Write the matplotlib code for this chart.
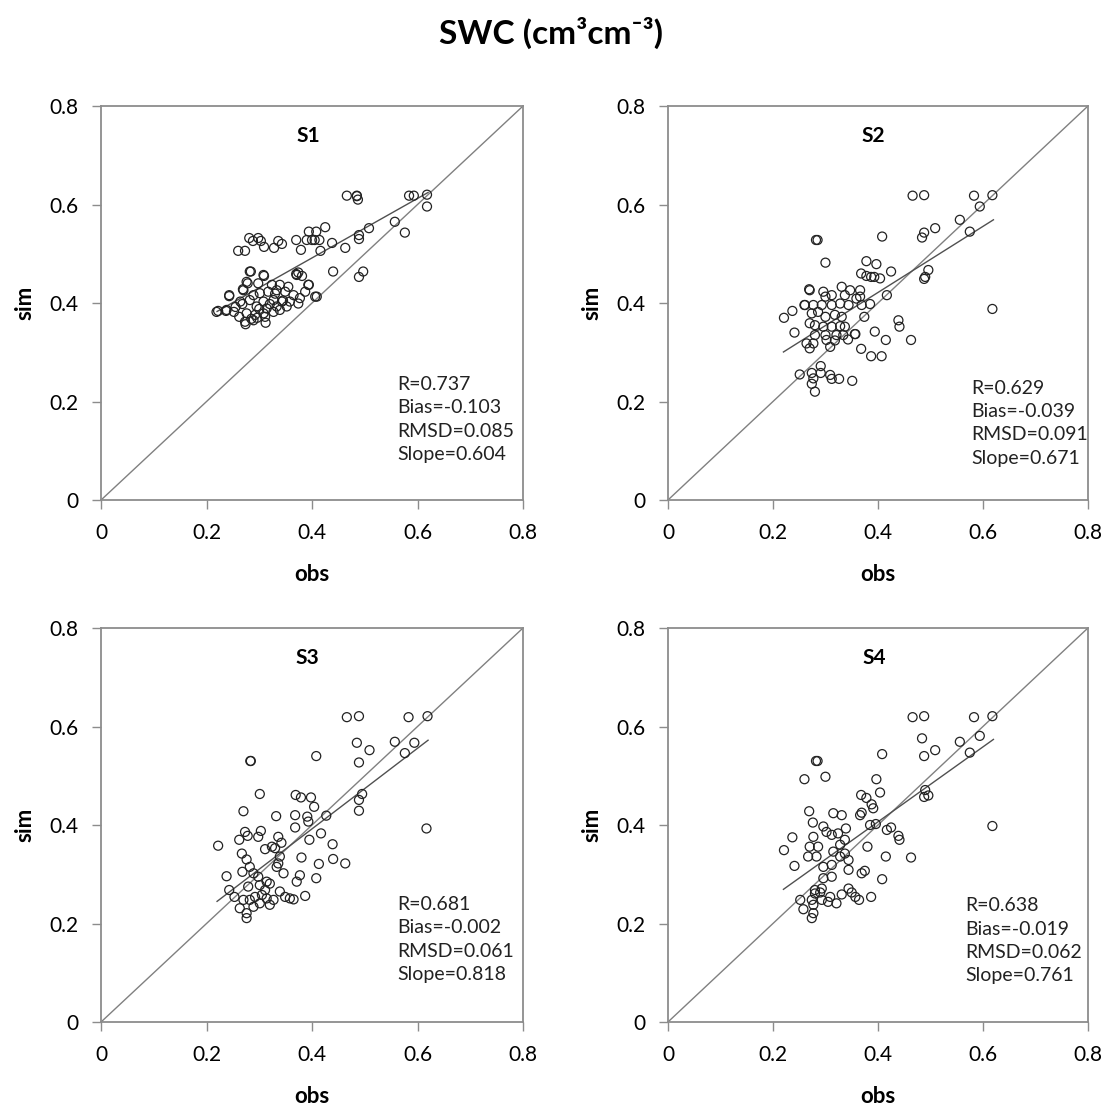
import numpy as np
import matplotlib.pyplot as plt

plt.rcParams['font.family'] = ['Lato', 'DejaVu Sans']

# ---- data ----
s1_obs = [0.466, 0.485, 0.487, 0.485, 0.584, 0.593, 0.618, 0.618, 0.557, 0.576, 0.508, 0.489, 0.489,
          0.463, 0.425, 0.394, 0.408, 0.390, 0.400, 0.405, 0.414, 0.438, 0.370, 0.379, 0.416,
          0.281, 0.288, 0.298, 0.303, 0.309, 0.328, 0.336, 0.343, 0.260, 0.273, 0.284, 0.309,
          0.278, 0.269, 0.370, 0.381, 0.440, 0.489, 0.497, 0.394, 0.409, 0.243, 0.222, 0.238,
          0.274, 0.219, 0.237, 0.252, 0.243, 0.276, 0.270, 0.282, 0.308, 0.298, 0.324, 0.339,
          0.355, 0.371, 0.374, 0.393, 0.387, 0.406, 0.264, 0.282, 0.289, 0.301, 0.317, 0.333,
          0.349, 0.365, 0.377, 0.308, 0.327, 0.343, 0.358, 0.374, 0.295, 0.314, 0.333, 0.352,
          0.276, 0.292, 0.308, 0.327, 0.273, 0.289, 0.311, 0.339, 0.262, 0.285, 0.300, 0.320,
          0.345, 0.255, 0.268, 0.330, 0.296, 0.312]
s1_sim = [0.618, 0.617, 0.610, 0.618, 0.618, 0.618, 0.620, 0.596, 0.565, 0.543, 0.552, 0.538, 0.530,
          0.512, 0.554, 0.545, 0.545, 0.528, 0.528, 0.528, 0.528, 0.522, 0.528, 0.508, 0.506,
          0.532, 0.526, 0.532, 0.526, 0.514, 0.512, 0.526, 0.520, 0.506, 0.506, 0.464, 0.455,
          0.440, 0.428, 0.459, 0.455, 0.464, 0.453, 0.464, 0.437, 0.413, 0.414, 0.384, 0.386,
          0.357, 0.382, 0.384, 0.382, 0.416, 0.443, 0.426, 0.464, 0.457, 0.440, 0.437, 0.437,
          0.433, 0.457, 0.462, 0.437, 0.423, 0.413, 0.403, 0.406, 0.416, 0.420, 0.423, 0.426,
          0.423, 0.416, 0.410, 0.403, 0.406, 0.403, 0.403, 0.399, 0.393, 0.389, 0.393, 0.393,
          0.379, 0.376, 0.379, 0.382, 0.362, 0.365, 0.372, 0.386, 0.372, 0.368, 0.388, 0.398,
          0.405, 0.392, 0.398, 0.419, 0.370, 0.360]

s2_obs = [0.466, 0.488, 0.583, 0.618, 0.594, 0.556, 0.575, 0.509, 0.488, 0.484, 0.408, 0.282, 0.285,
          0.300, 0.378, 0.397, 0.368, 0.378, 0.387, 0.393, 0.404, 0.425, 0.490, 0.496, 0.488,
          0.417, 0.374, 0.439, 0.441, 0.618, 0.394, 0.415, 0.463, 0.368, 0.387, 0.407, 0.357,
          0.343, 0.221, 0.237, 0.241, 0.269, 0.260, 0.251, 0.274, 0.277, 0.274, 0.280, 0.291,
          0.291, 0.309, 0.312, 0.326, 0.351,
          0.270, 0.296, 0.300, 0.312, 0.331, 0.337, 0.347, 0.366, 0.366, 0.344, 0.328, 0.312,
          0.293, 0.277, 0.261, 0.274, 0.286, 0.300, 0.318, 0.331, 0.270, 0.280, 0.296, 0.312,
          0.328, 0.337, 0.280, 0.300, 0.321, 0.334, 0.356, 0.302, 0.318, 0.277, 0.264, 0.270,
          0.309, 0.385, 0.369, 0.359]
s2_sim = [0.618, 0.619, 0.618, 0.619, 0.596, 0.569, 0.545, 0.552, 0.543, 0.533, 0.535, 0.528, 0.528,
          0.482, 0.485, 0.479, 0.460, 0.455, 0.453, 0.453, 0.450, 0.464, 0.453, 0.467, 0.449,
          0.416, 0.372, 0.365, 0.352, 0.388, 0.342, 0.325, 0.325, 0.307, 0.292, 0.292, 0.337,
          0.326, 0.370, 0.384, 0.340, 0.428, 0.396, 0.255, 0.258, 0.247, 0.236, 0.220, 0.272,
          0.258, 0.254, 0.246, 0.246, 0.242,
          0.426, 0.423, 0.413, 0.416, 0.433, 0.416, 0.426, 0.426, 0.413, 0.396, 0.399, 0.396,
          0.396, 0.396, 0.396, 0.379, 0.382, 0.372, 0.376, 0.372, 0.359, 0.355, 0.352, 0.352,
          0.353, 0.352, 0.335, 0.335, 0.335, 0.335, 0.337, 0.325, 0.324, 0.318, 0.318, 0.308,
          0.311, 0.398, 0.396, 0.409]

s3_obs = [0.466, 0.489, 0.583, 0.619, 0.557, 0.594, 0.576, 0.485, 0.509, 0.489, 0.408, 0.283, 0.284,
          0.301, 0.369, 0.379, 0.398, 0.404, 0.391, 0.393, 0.427, 0.495, 0.489, 0.489, 0.617,
          0.270, 0.332, 0.368, 0.368, 0.417, 0.439, 0.440, 0.463, 0.380, 0.395, 0.413, 0.408,
          0.387, 0.222, 0.238, 0.243, 0.253,
          0.273, 0.278, 0.262, 0.298, 0.303, 0.267, 0.276, 0.268, 0.282, 0.336, 0.342, 0.324,
          0.311, 0.330, 0.339, 0.336, 0.298, 0.314, 0.320, 0.301, 0.289, 0.346, 0.377, 0.371,
          0.279, 0.333,
          0.263, 0.276, 0.276, 0.282, 0.292, 0.305, 0.314, 0.327, 0.320, 0.339, 0.349, 0.358,
          0.365, 0.301, 0.289, 0.270, 0.311]
s3_sim = [0.619, 0.621, 0.619, 0.621, 0.569, 0.567, 0.546, 0.567, 0.552, 0.527, 0.540, 0.530, 0.530,
          0.463, 0.461, 0.456, 0.456, 0.437, 0.417, 0.407, 0.419, 0.463, 0.451, 0.429, 0.393,
          0.428, 0.418, 0.420, 0.395, 0.383, 0.361, 0.331, 0.322, 0.334, 0.370, 0.321, 0.292,
          0.256, 0.358, 0.296, 0.268, 0.254,
          0.386, 0.378, 0.370, 0.376, 0.388, 0.342, 0.330, 0.305, 0.315, 0.376, 0.364, 0.356,
          0.351, 0.353, 0.336, 0.322, 0.295, 0.285, 0.281, 0.278, 0.302, 0.302, 0.298, 0.285,
          0.275, 0.315,
          0.231, 0.221, 0.211, 0.248, 0.254, 0.258, 0.251, 0.248, 0.238, 0.265, 0.254, 0.251,
          0.249, 0.241, 0.234, 0.248, 0.268]

s4_obs = [0.466, 0.488, 0.583, 0.618, 0.594, 0.556, 0.575, 0.484, 0.509, 0.488, 0.408, 0.282, 0.285,
          0.260, 0.300, 0.397, 0.404, 0.368, 0.378, 0.388, 0.391, 0.366, 0.369, 0.490, 0.496,
          0.488, 0.385, 0.396, 0.417, 0.425, 0.439, 0.441, 0.618, 0.269, 0.276, 0.237, 0.221,
          0.241, 0.380, 0.415, 0.463, 0.408, 0.369, 0.375, 0.387,
          0.315, 0.331, 0.296, 0.302, 0.312, 0.324, 0.339, 0.337, 0.328, 0.277, 0.270, 0.286,
          0.267, 0.283, 0.296, 0.312, 0.328, 0.344, 0.344, 0.312, 0.296, 0.293, 0.280, 0.252,
          0.258, 0.274, 0.277, 0.274, 0.277, 0.280, 0.290, 0.293, 0.305, 0.309, 0.321, 0.331,
          0.344, 0.350, 0.357, 0.364, 0.337, 0.315]
s4_sim = [0.619, 0.621, 0.619, 0.621, 0.581, 0.569, 0.547, 0.576, 0.552, 0.540, 0.544, 0.530, 0.530,
          0.493, 0.498, 0.493, 0.466, 0.461, 0.455, 0.442, 0.434, 0.420, 0.425, 0.471, 0.460,
          0.457, 0.400, 0.402, 0.390, 0.395, 0.378, 0.370, 0.398, 0.428, 0.405, 0.375, 0.349,
          0.317, 0.356, 0.336, 0.334, 0.290, 0.302, 0.307, 0.254,
          0.424, 0.420, 0.397, 0.386, 0.380, 0.383, 0.393, 0.370, 0.360, 0.376, 0.356, 0.356,
          0.336, 0.336, 0.315, 0.319, 0.336, 0.329, 0.309, 0.295, 0.292, 0.271, 0.261, 0.248,
          0.229, 0.248, 0.238, 0.211, 0.221, 0.268, 0.263, 0.248, 0.244, 0.254, 0.241, 0.259,
          0.271, 0.263, 0.254, 0.248, 0.342, 0.346]

panel_names = ['S1', 'S2', 'S3', 'S4']
panel_obs = [s1_obs, s2_obs, s3_obs, s4_obs]
panel_sim = [s1_sim, s2_sim, s3_sim, s4_sim]
stat_R = ['0.737', '0.629', '0.681', '0.638']
stat_bias = ['-0.103', '-0.039', '-0.002', '-0.019']
stat_rmsd = ['0.085', '0.091', '0.061', '0.062']
stat_slope = [0.604, 0.671, 0.818, 0.761]
fit_intercept = [0.250, 0.153, 0.065, 0.102]
fit_range = [0.22, 0.62]
stat_pos = [(0.561, 0.252), (0.577, 0.244), (0.561, 0.256), (0.566, 0.253)]
ticks = [0, 0.2, 0.4, 0.6, 0.8]
tick_labels = ['0', '0.2', '0.4', '0.6', '0.8']

# axes rectangles in figure fractions (left, bottom, width, height)
rects = [[0.0911, 0.5487, 0.3805, 0.3556], [0.6023, 0.5487, 0.3787, 0.3556],
         [0.0911, 0.0776, 0.3805, 0.3556], [0.6023, 0.0776, 0.3787, 0.3556]]

fig = plt.figure(figsize=(11.09, 11.08), dpi=100)
fig.text(0.497, 0.970, 'SWC (cm³cm⁻³)', ha='center', va='center',
         fontsize=24, fontweight='bold')

for i in range(4):
    ax = fig.add_axes(rects[i])
    ax.set_xlim(0, 0.8)
    ax.set_ylim(0, 0.8)

    ax.plot([0, 0.8], [0, 0.8], color='#808080', lw=1.0, zorder=1)
    xs = np.array(fit_range)
    ax.plot(xs, stat_slope[i] * xs + fit_intercept[i], color='#505050', lw=1.0, zorder=2)
    ax.scatter(panel_obs[i], panel_sim[i], s=42, facecolors='none', edgecolors='#222222',
               linewidths=0.9, zorder=3)

    for sp in ax.spines.values():
        sp.set_color('#8c8c8c')
        sp.set_linewidth(1.3)

    ax.set_xticks(ticks)
    ax.set_yticks(ticks)
    ax.set_xticklabels(tick_labels)
    ax.set_yticklabels(tick_labels)
    ax.tick_params(direction='out', length=6.5, width=1.0, color='#8c8c8c',
                   labelsize=15, pad=10)

    ax.set_xlabel('obs', fontsize=16, fontweight='bold')
    ax.set_ylabel('sim', fontsize=16, fontweight='bold')
    ax.xaxis.set_label_coords(0.5, -0.163)
    ax.yaxis.set_label_coords(-0.156, 0.5)

    ax.text(0.49, 0.925, panel_names[i], transform=ax.transAxes, ha='center', va='center',
            fontsize=15, fontweight='bold')

    txt = ('R=%s\nBias=%s\nRMSD=%s\nSlope=%.3f'
           % (stat_R[i], stat_bias[i], stat_rmsd[i], stat_slope[i]))
    ax.text(stat_pos[i][0], stat_pos[i][1], txt, ha='left', va='top', fontsize=14,
            linespacing=1.45, color='#222222')

fig.savefig('out.png', dpi=100)
